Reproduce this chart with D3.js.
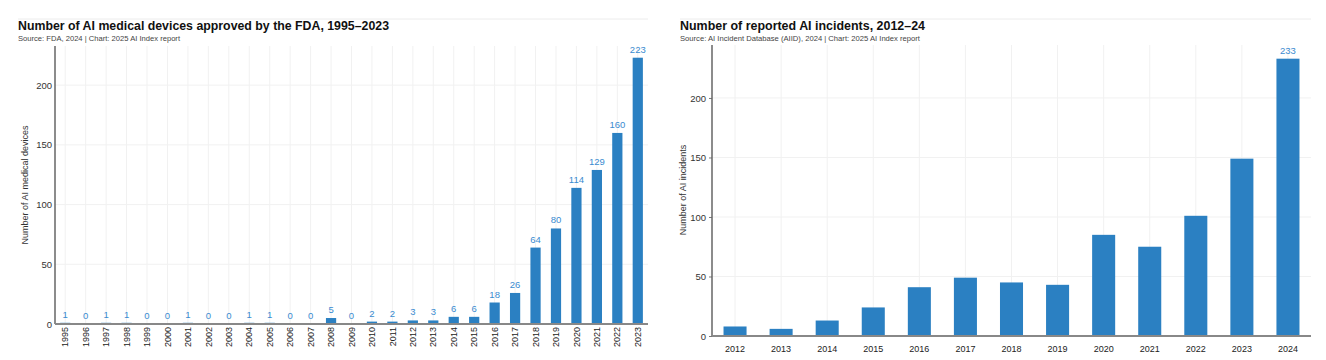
<!DOCTYPE html>
<html><head><meta charset="utf-8">
<script src="https://cdn.jsdelivr.net/npm/d3@7"></script>
<style>
body{margin:0;background:#fff;}
svg{display:block;}
text{font-family:"Liberation Sans",Arial,sans-serif;}
</style></head>
<body><svg id="c" width="1326" height="360"></svg>
<script>
// ---- data ----
const fdaYears = ["1995","1996","1997","1998","1999","2000","2001","2002","2003","2004","2005","2006","2007","2008","2009","2010","2011","2012","2013","2014","2015","2016","2017","2018","2019","2020","2021","2022","2023"];
const fdaValues = [1,0,1,1,0,0,1,0,0,1,1,0,0,5,0,2,2,3,3,6,6,18,26,64,80,114,129,160,223];
const fdaTicks = [0,50,100,150,200];

const incYears = ["2012","2013","2014","2015","2016","2017","2018","2019","2020","2021","2022","2023","2024"];
const incValues = [8,6,13,24,41,49,45,43,85,75,101,149,233];
const incLabelYears = ["2024"];
const incTicks = [0,50,100,150,200];

const titles = ["Number of AI medical devices approved by the FDA, 1995–2023","Number of reported AI incidents, 2012–24"];
const subtitles = ["Source: FDA, 2024 | Chart: 2025 AI Index report","Source: AI Incident Database (AIID), 2024 | Chart: 2025 AI Index report"];
const yTitles = ["Number of AI medical devices","Number of AI incidents"];

const svg = d3.select("#c");
const barColor = "#2b80c2", labelColor = "#3a8bd0";

function panel(cfg){
  const g = svg.append("g");
  // top rule
  g.append("line").attr("x1",cfg.left0).attr("x2",cfg.x1).attr("y1",19).attr("y2",19)
    .attr("stroke","#ececec").attr("stroke-width",1);
  g.append("text").attr("x",cfg.left0).attr("y",30).text(cfg.title)
    .attr("font-family","Inter, 'Liberation Sans', sans-serif")
    .attr("font-weight",700).attr("font-size",13).attr("fill","#111")
    .attr("textLength",cfg.titleW).attr("lengthAdjust","spacingAndGlyphs");
  g.append("text").attr("x",cfg.left0).attr("y",40.5).text(cfg.subtitle)
    .attr("font-size",7.2).attr("fill","#444")
    .attr("textLength",cfg.subW).attr("lengthAdjust","spacingAndGlyphs");

  const x = d3.scaleBand().domain(cfg.cats).range([cfg.x0,cfg.x1]).paddingInner(0.5).paddingOuter(0.25);
  const y = d3.scaleLinear().domain([0,cfg.ymax]).range([cfg.yb,cfg.yt]);

  // gridlines
  g.append("g").selectAll("line").data(cfg.cats).join("line")
    .attr("x1",d=>x(d)+x.bandwidth()/2).attr("x2",d=>x(d)+x.bandwidth()/2)
    .attr("y1",cfg.yt).attr("y2",cfg.yb).attr("stroke","#f1f1f1");
  g.append("g").selectAll("line").data(cfg.ticks).join("line")
    .attr("x1",cfg.x0).attr("x2",cfg.x1).attr("y1",d=>y(d)).attr("y2",d=>y(d)).attr("stroke","#f1f1f1");

  // bars
  g.append("g").selectAll("rect").data(cfg.cats).join("rect")
    .attr("x",d=>x(d)).attr("width",x.bandwidth())
    .attr("y",(d,i)=>y(cfg.vals[i])).attr("height",(d,i)=>cfg.yb-y(cfg.vals[i]))
    .attr("fill",barColor);

  // value labels
  g.append("g").selectAll("text").data(cfg.cats.filter(c=>cfg.labelCats.includes(c))).join("text")
    .attr("x",d=>x(d)+x.bandwidth()/2)
    .attr("y",d=>y(cfg.vals[cfg.cats.indexOf(d)])-5)
    .attr("text-anchor","middle").attr("font-size",9.5).attr("fill",labelColor)
    .text(d=>cfg.vals[cfg.cats.indexOf(d)]);

  // y axis
  const ya = g.append("g").attr("transform",`translate(${cfg.x0},0)`)
    .call(d3.axisLeft(y).tickValues(cfg.ticks).tickSize(cfg.tickSize).tickPadding(3));
  ya.select(".domain").remove();
  ya.selectAll(".tick line").attr("stroke","#777");
  ya.selectAll("text").attr("font-size",9.5).attr("fill","#333").attr("font-family","'Liberation Sans',Arial,sans-serif");
  g.append("line").attr("x1",cfg.x0).attr("x2",cfg.x0).attr("y1",cfg.yt).attr("y2",cfg.yb)
    .attr("stroke","#666").attr("stroke-width",1.5);

  // x axis
  const xa = g.append("g").attr("transform",`translate(0,${cfg.yb})`)
    .call(d3.axisBottom(x).tickSize(0));
  xa.select(".domain").remove();
  if(cfg.rotate){
    xa.selectAll("text").attr("transform","rotate(-90)").attr("text-anchor","end")
      .attr("x",-3).attr("y",0).attr("dy","0.35em");
  } else {
    xa.selectAll("text").attr("y",10).attr("dy","0.71em");
  }
  xa.selectAll("text").attr("font-size",9).attr("fill","#222").attr("font-family","'Liberation Sans',Arial,sans-serif");
  g.append("line").attr("x1",cfg.x0).attr("x2",cfg.x1).attr("y1",cfg.yb).attr("y2",cfg.yb)
    .attr("stroke","#888").attr("stroke-width",2);

  // y title
  g.append("text").attr("transform",`translate(${cfg.ytx},${cfg.ytY}) rotate(-90)`)
    .attr("text-anchor","middle").attr("font-size",9).attr("fill","#333").text(cfg.yTitle);
}

panel({left0:18,x0:55,x1:648,yt:46,yb:324,ymax:232.8,cats:fdaYears,vals:fdaValues,labelCats:fdaYears,
  ticks:fdaTicks,tickSize:0,rotate:true,title:titles[0],subtitle:subtitles[0],titleW:371,subW:162,
  yTitle:yTitles[0],ytx:28,ytY:185});
panel({left0:680,x0:712,x1:1311,yt:45,yb:336,ymax:244.5,cats:incYears,vals:incValues,labelCats:incLabelYears,
  ticks:incTicks,tickSize:3,rotate:false,title:titles[1],subtitle:subtitles[1],titleW:245,subW:240,
  yTitle:yTitles[1],ytx:686,ytY:190});
</script></body></html>
